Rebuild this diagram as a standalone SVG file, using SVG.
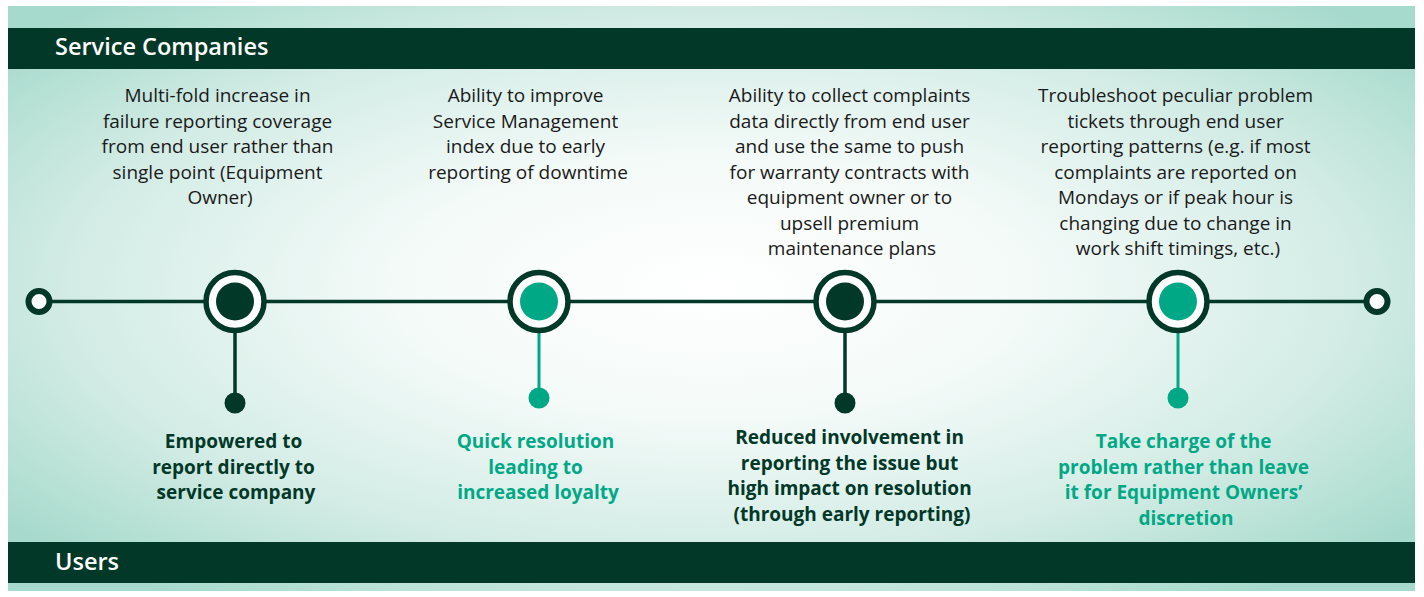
<svg xmlns="http://www.w3.org/2000/svg" width="1424" height="597" viewBox="0 0 1424 597">
  <defs>
    <radialGradient id="bg" cx="50%" cy="48%" r="65%" fx="50%" fy="48%">
      <stop offset="0" stop-color="#ffffff"/>
      <stop offset="0.35" stop-color="#f3faf8"/>
      <stop offset="0.7" stop-color="#d3ece5"/>
      <stop offset="1" stop-color="#a6dacc"/>
    </radialGradient>
  </defs>
  <style>
    .band { fill: #023827; }
    .bandtxt { font-family: "Open Sans", "Liberation Sans", sans-serif; font-weight: 600; font-size: 23.5px; fill: #ffffff; }
    .top { font-family: "Open Sans", "Liberation Sans", sans-serif; font-size: 19px; fill: #1a1a1a; text-anchor: middle; }
    .bot { font-family: "Open Sans", "Liberation Sans", sans-serif; font-weight: 700; font-size: 19px; text-anchor: middle; }
    .dk { fill: #023827; }
    .tl { fill: #00a886; }
    .ring { fill: #ffffff; stroke: #023827; stroke-width: 5.5; }
    .end { fill: #ffffff; stroke: #023827; stroke-width: 6; }
    .line { stroke: #023827; stroke-width: 3.5; fill: none; }
    .lineT { stroke: #00a886; stroke-width: 3; fill: none; }
  </style>

  <rect x="0" y="0" width="1424" height="597" fill="#ffffff"/>
  <rect x="8" y="6" width="1407" height="585" fill="url(#bg)"/>

  <g id="band-top">
    <rect class="band" x="8" y="28" width="1407" height="41"/>
    <text class="bandtxt" x="55" y="55">Service Companies</text>
  </g>
  <g id="band-bottom">
    <rect class="band" x="8" y="542" width="1407" height="41"/>
    <text class="bandtxt" x="55" y="570">Users</text>
  </g>

  <g id="connectors">
    <line class="line" x1="50" y1="301.5" x2="1366" y2="301.5"/>
    <line class="line" x1="235" y1="333" x2="235" y2="403"/>
    <line class="lineT" x1="539" y1="333" x2="539" y2="398"/>
    <line class="line" x1="845" y1="333" x2="845" y2="403"/>
    <line class="lineT" x1="1178" y1="333" x2="1178" y2="398"/>
  </g>

  <g id="end-left"><circle class="end" cx="39" cy="301.5" r="10.5"/></g>
  <g id="end-right"><circle class="end" cx="1377" cy="301.5" r="10.5"/></g>

  <g id="node-1">
    <text class="top">
      <tspan x="220" y="102">Multi-fold increase in</tspan>
      <tspan x="220" y="127.5">failure reporting coverage</tspan>
      <tspan x="220" y="153">from end user rather than</tspan>
      <tspan x="220" y="178.5">single point (Equipment</tspan>
      <tspan x="220" y="204">Owner)</tspan>
    </text>
    <circle class="ring" cx="235" cy="301.5" r="29"/>
    <circle class="dk" cx="235" cy="301.5" r="19"/>
    <circle class="dk" cx="235" cy="403" r="10.5"/>
    <text class="bot dk">
      <tspan x="236" y="448">Empowered to</tspan>
      <tspan x="236" y="473.5">report directly to</tspan>
      <tspan x="236" y="499">service company</tspan>
    </text>
  </g>

  <g id="node-2">
    <text class="top">
      <tspan x="528" y="102">Ability to improve</tspan>
      <tspan x="528" y="127.5">Service Management</tspan>
      <tspan x="528" y="153">index due to early</tspan>
      <tspan x="528" y="178.5">reporting of downtime</tspan>
    </text>
    <circle class="ring" cx="539" cy="301.5" r="29"/>
    <circle class="tl" cx="539" cy="301.5" r="19"/>
    <circle class="tl" cx="539" cy="398" r="10.5"/>
    <text class="bot tl">
      <tspan x="538" y="448">Quick resolution</tspan>
      <tspan x="538" y="473.5">leading to</tspan>
      <tspan x="538" y="499">increased loyalty</tspan>
    </text>
  </g>

  <g id="node-3">
    <text class="top">
      <tspan x="852" y="102">Ability to collect complaints</tspan>
      <tspan x="852" y="127.5">data directly from end user</tspan>
      <tspan x="852" y="153">and use the same to push</tspan>
      <tspan x="852" y="178.5">for warranty contracts with</tspan>
      <tspan x="852" y="204">equipment owner or to</tspan>
      <tspan x="852" y="229.5">upsell premium</tspan>
      <tspan x="852" y="255">maintenance plans</tspan>
    </text>
    <circle class="ring" cx="845" cy="301.5" r="29"/>
    <circle class="dk" cx="845" cy="301.5" r="19"/>
    <circle class="dk" cx="845" cy="403" r="10.5"/>
    <text class="bot dk">
      <tspan x="852" y="444">Reduced involvement in</tspan>
      <tspan x="852" y="469.5">reporting the issue but</tspan>
      <tspan x="852" y="495">high impact on resolution</tspan>
      <tspan x="852" y="520.5">(through early reporting)</tspan>
    </text>
  </g>

  <g id="node-4">
    <text class="top">
      <tspan x="1178" y="102">Troubleshoot peculiar problem</tspan>
      <tspan x="1178" y="127.5">tickets through end user</tspan>
      <tspan x="1178" y="153">reporting patterns (e.g. if most</tspan>
      <tspan x="1178" y="178.5">complaints are reported on</tspan>
      <tspan x="1178" y="204">Mondays or if peak hour is</tspan>
      <tspan x="1178" y="229.5">changing due to change in</tspan>
      <tspan x="1178" y="255">work shift timings, etc.)</tspan>
    </text>
    <circle class="ring" cx="1178" cy="301.5" r="29"/>
    <circle class="tl" cx="1178" cy="301.5" r="19"/>
    <circle class="tl" cx="1178" cy="398" r="10.5"/>
    <text class="bot tl">
      <tspan x="1186" y="448">Take charge of the</tspan>
      <tspan x="1186" y="473.5">problem rather than leave</tspan>
      <tspan x="1186" y="499">it for Equipment Owners’</tspan>
      <tspan x="1186" y="524.5">discretion</tspan>
    </text>
  </g>
</svg>
